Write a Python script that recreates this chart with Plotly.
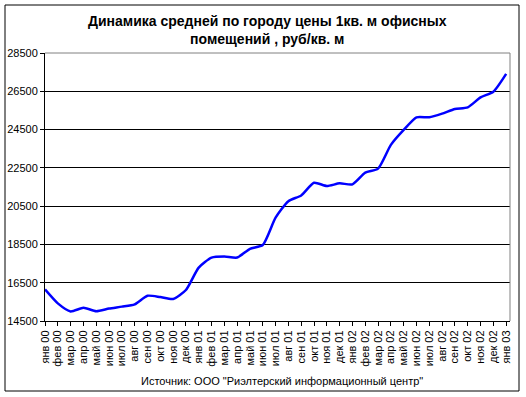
import plotly.graph_objects as go

months = ["янв 00","фев 00","мар 00","апр 00","май 00","июн 00","июл 00","авг 00","сен 00","окт 00","ноя 00","дек 00",
          "янв 01","фев 01","мар 01","апр 01","май 01","июн 01","июл 01","авг 01","сен 01","окт 01","ноя 01","дек 01",
          "янв 02","фев 02","мар 02","апр 02","май 02","июн 02","июл 02","авг 02","сен 02","окт 02","ноя 02","дек 02",
          "янв 03"]
prices = [16150, 15420, 15000, 15190, 15010, 15150, 15250, 15370, 15820, 15750, 15650, 16120,
          17290, 17810, 17870, 17815, 18270, 18470, 19900, 20760, 21060, 21720, 21550, 21690,
          21640, 22250, 22460, 23700, 24480, 25140, 25140, 25330, 25575, 25660, 26180, 26480,
          27410]
y_ticks = [14500, 16500, 18500, 20500, 22500, 24500, 26500, 28500]
y_tick_labels = [str(v) for v in y_ticks]

title_text = "Динамика средней по городу цены 1кв. м офисных<br>помещений , руб/кв. м"
source_text = "Источник: ООО \"Риэлтерский информационный центр\""

idx = list(range(len(months)))

fig = go.Figure()
fig.add_trace(go.Scatter(x=idx, y=prices, mode="lines",
                         line=dict(color="#0000FF", width=2.5, shape="spline", smoothing=0.6),
                         showlegend=False, hoverinfo="skip"))

L, R, T, B = 45, 16, 53, 76
W, H = 526, 397
pw, ph = W - L - R, H - T - B

def px(x):
    return (x - L) / pw

def py(y):
    return (H - B - y) / ph

fig.update_layout(
    width=W, height=H,
    margin=dict(l=L, r=R, t=T, b=B, autoexpand=False),
    paper_bgcolor="white", plot_bgcolor="white",
    font=dict(family="Liberation Sans, Arial, sans-serif", size=11, color="black"),
    xaxis=dict(tickmode="array", tickvals=idx, ticktext=months, tickangle=-90,
               range=[0, 36.3], showgrid=False, zeroline=False, automargin=False,
               showline=True, linecolor="black", linewidth=1,
               ticks="outside", ticklen=4, tickcolor="black",
               tickfont=dict(size=11)),
    yaxis=dict(tickmode="array", tickvals=y_ticks, ticktext=y_tick_labels, range=[14500, 28500],
               showgrid=True, gridcolor="black", gridwidth=1, zeroline=False, automargin=False,
               showline=True, linecolor="black", linewidth=1,
               ticks="outside", ticklen=4, tickcolor="black",
               tickfont=dict(size=11)),
    shapes=[
        dict(type="line", xref="paper", yref="paper", x0=0, x1=1, y0=1, y1=1,
             line=dict(color="#808080", width=1)),
        dict(type="line", xref="paper", yref="paper", x0=1, x1=1, y0=0, y1=1,
             line=dict(color="#808080", width=1)),
        dict(type="rect", xref="paper", yref="paper", x0=px(5), x1=px(519), y0=py(391), y1=py(5),
             line=dict(color="black", width=1), fillcolor="rgba(0,0,0,0)", layer="above"),
    ],
    annotations=[
        dict(text="<b>" + title_text + "</b>", xref="paper", yref="paper", x=px(267), y=py(29.5),
             xanchor="center", yanchor="middle", showarrow=False, align="center",
             font=dict(size=14, family="Liberation Sans, Arial, sans-serif", color="black")),
        dict(text=source_text, xref="paper", yref="paper", x=px(282), y=py(381),
             xanchor="center", yanchor="middle", showarrow=False,
             font=dict(size=11, color="black")),
    ],
)

fig.write_html("out.html", config={"displayModeBar": False},
               post_script="document.body.style.margin='0';")
